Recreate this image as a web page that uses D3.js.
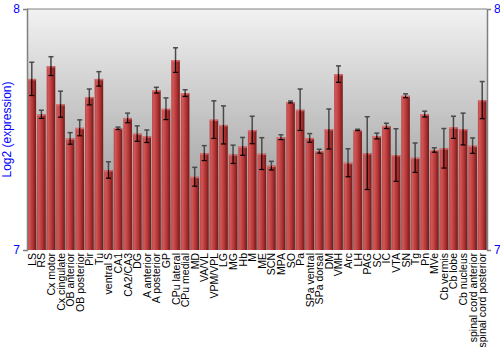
<!DOCTYPE html>
<html>
<head>
<meta charset="utf-8">
<script src="https://cdn.jsdelivr.net/npm/d3@7"></script>
<style>
  body { margin: 0; background: #fff; }
  text { font-family: "Liberation Sans", Arial, sans-serif; }
</style>
</head>
<body>
<div id="chart"></div>
<script>
var regions = ["LS", "RS", "Cx motor", "Cx cingulate", "OB anterior", "OB posterior", "Pir", "Tu",
    "ventral S", "CA1", "CA2/CA3", "DG", "A anterior", "A posterior", "GP", "CPu lateral",
    "CPu medial", "MD", "VA/VL", "VPM/VPL", "LG", "MG", "Hb", "M", "ME", "SCN", "MPA", "SO",
    "Pa", "SPa ventral", "SPa dorsal", "DM", "VMH", "Arc", "LH", "PAG", "SC", "IC", "VTA", "SN",
    "Tg", "Pn", "MVe", "Cb vermis", "Cb lobe", "Cb nucleus", "spinal cord anterior", "spinal cord posterior"];

var expression = [7.710, 7.563, 7.763, 7.605, 7.463, 7.507, 7.635, 7.710,
    7.332, 7.505, 7.548, 7.483, 7.472, 7.663, 7.586, 7.788,
    7.651, 7.304, 7.402, 7.541, 7.519, 7.397, 7.430, 7.498, 7.400, 7.350, 7.468, 7.614,
    7.582, 7.465, 7.410, 7.502, 7.730, 7.362, 7.498, 7.402, 7.473, 7.515, 7.394, 7.640,
    7.383, 7.564, 7.415, 7.422, 7.509, 7.502, 7.433, 7.622];

var errors = [0.069, 0.017, 0.039, 0.054, 0.024, 0.033, 0.033, 0.030,
    0.034, 0.005, 0.020, 0.032, 0.026, 0.012, 0.045, 0.051,
    0.014, 0.039, 0.031, 0.078, 0.079, 0.038, 0.037, 0.057, 0.066, 0.018, 0.010, 0.004,
    0.086, 0.018, 0.008, 0.083, 0.034, 0.058, 0.003, 0.151, 0.012, 0.011, 0.109, 0.008,
    0.061, 0.012, 0.009, 0.082, 0.046, 0.066, 0.032, 0.077];

var yTicks = [7, 8];
var yTitle = "Log2 (expression)";

var width = 500, height = 350;
var margin = {top: 9, right: 13, bottom: 100, left: 27};
var plotW = width - margin.left - margin.right;
var plotH = height - margin.top - margin.bottom;

var svg = d3.select("#chart")
    .append("svg")
    .attr("width", width)
    .attr("height", height);

var defs = svg.append("defs");

var bg = defs.append("linearGradient")
    .attr("id", "bg-grad")
    .attr("x1", 0).attr("y1", 0).attr("x2", 0).attr("y2", 1);
bg.append("stop").attr("offset", "0%").attr("stop-color", "#f2f2f2");
bg.append("stop").attr("offset", "100%").attr("stop-color", "#8a8a8a");

var barGrad = defs.append("linearGradient")
    .attr("id", "bar-grad")
    .attr("x1", 0).attr("y1", 0).attr("x2", 1).attr("y2", 0);
barGrad.append("stop").attr("offset", "0%").attr("stop-color", "#b84848");
barGrad.append("stop").attr("offset", "20%").attr("stop-color", "#d25656");
barGrad.append("stop").attr("offset", "60%").attr("stop-color", "#b43636");
barGrad.append("stop").attr("offset", "100%").attr("stop-color", "#741818");

var g = svg.append("g")
    .attr("transform", "translate(" + margin.left + "," + margin.top + ")");

var x = d3.scaleBand()
    .domain(regions)
    .range([0, plotW])
    .paddingInner(0.1)
    .paddingOuter(0.05);

var y = d3.scaleLinear()
    .domain([7, 8])
    .range([plotH, 0]);

g.append("rect")
    .attr("width", plotW)
    .attr("height", plotH)
    .attr("fill", "url(#bg-grad)");

var data = regions.map(function (d, i) {
    return {name: d, value: expression[i], err: errors[i]};
});

var bars = g.selectAll(".bar")
    .data(data)
    .enter().append("g")
    .attr("class", "bar");

bars.append("rect")
    .attr("x", function (d) { return x(d.name); })
    .attr("y", function (d) { return y(d.value); })
    .attr("width", x.bandwidth())
    .attr("height", function (d) { return plotH - y(d.value); })
    .attr("fill", "url(#bar-grad)");

// light edge on top of each bar
bars.append("rect")
    .attr("x", function (d) { return x(d.name); })
    .attr("y", function (d) { return y(d.value); })
    .attr("width", x.bandwidth())
    .attr("height", 1.5)
    .attr("fill", "#e07a7a")
    .attr("opacity", 0.8);

// error bars: upper half grey, lower half black
var cap = 2.5;
function cx(d) { return x(d.name) + x.bandwidth() / 2; }

bars.append("line")
    .attr("x1", cx).attr("x2", cx)
    .attr("y1", function (d) { return y(d.value + d.err); })
    .attr("y2", function (d) { return y(d.value); })
    .attr("stroke", "#4a4a4a").attr("stroke-width", 1.5);
bars.append("line")
    .attr("x1", function (d) { return cx(d) - cap; })
    .attr("x2", function (d) { return cx(d) + cap; })
    .attr("y1", function (d) { return y(d.value + d.err); })
    .attr("y2", function (d) { return y(d.value + d.err); })
    .attr("stroke", "#4a4a4a").attr("stroke-width", 1.5);
bars.append("line")
    .attr("x1", cx).attr("x2", cx)
    .attr("y1", function (d) { return y(d.value); })
    .attr("y2", function (d) { return y(d.value - d.err); })
    .attr("stroke", "#000").attr("stroke-width", 1.2);
bars.append("line")
    .attr("x1", function (d) { return cx(d) - cap; })
    .attr("x2", function (d) { return cx(d) + cap; })
    .attr("y1", function (d) { return y(d.value - d.err); })
    .attr("y2", function (d) { return y(d.value - d.err); })
    .attr("stroke", "#000").attr("stroke-width", 1.2);

// frame lines
g.append("line")
    .attr("x1", 0).attr("x2", plotW).attr("y1", 0).attr("y2", 0)
    .attr("stroke", "#808080");

var leftAxis = g.append("g")
    .call(d3.axisLeft(y).tickValues(yTicks).tickSize(4).tickFormat(d3.format("d")));
var rightAxis = g.append("g")
    .attr("transform", "translate(" + plotW + ",0)")
    .call(d3.axisRight(y).tickValues(yTicks).tickSize(4).tickFormat(d3.format("d")));

[leftAxis, rightAxis].forEach(function (ax) {
    ax.select(".domain").attr("stroke", "#808080").attr("stroke-width", 1.5);
    ax.selectAll(".tick line").attr("stroke", "#808080");
    ax.selectAll(".tick text")
        .attr("fill", "#0000ff")
        .style("font-size", "12px")
        .style("font-family", "Liberation Sans, Arial, sans-serif");
});

// category labels
g.selectAll(".xlabel")
    .data(regions)
    .enter().append("text")
    .attr("class", "xlabel")
    .attr("transform", function (d) {
        return "translate(" + (x(d) + x.bandwidth() / 2 + 4) + "," + (plotH + 3) + ") rotate(-90)";
    })
    .attr("text-anchor", "end")
    .style("font-size", "10.5px")
    .attr("fill", "#000")
    .text(function (d) { return d; });

svg.append("text")
    .attr("transform", "translate(11," + (margin.top + plotH / 2) + ") rotate(-90)")
    .attr("text-anchor", "middle")
    .attr("fill", "#0000ff")
    .style("font-size", "12px")
    .text(yTitle);
</script>
</body>
</html>
